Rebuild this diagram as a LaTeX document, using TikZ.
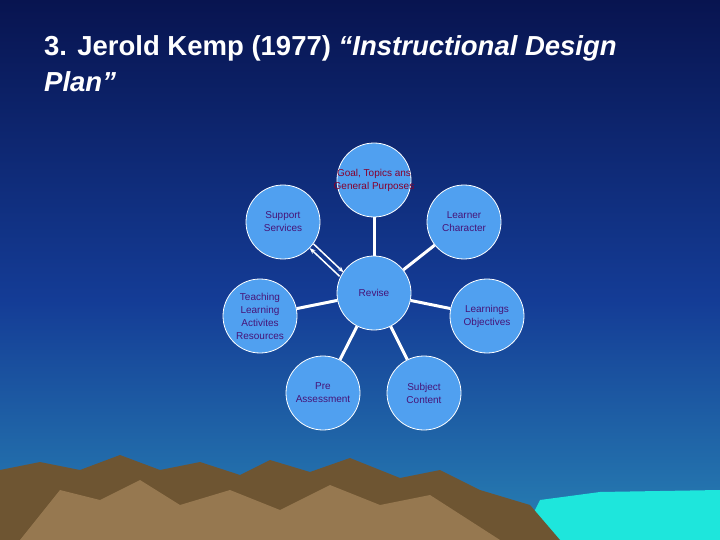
\documentclass[tikz,border=0pt]{standalone}
\usepackage{fontspec}
\setmainfont{Liberation Sans}
\usetikzlibrary{arrows.meta}
\definecolor{navy}{RGB}{8,20,80}
\definecolor{midblue}{RGB}{20,60,150}
\definecolor{lowblue}{RGB}{40,130,180}
\definecolor{bubble}{RGB}{80,160,240}
\definecolor{txt}{RGB}{70,20,120}
\definecolor{brown1}{RGB}{110,85,50}
\definecolor{brown2}{RGB}{150,120,80}
\definecolor{aqua}{RGB}{30,230,220}
\begin{document}
\begin{tikzpicture}[x=1pt,y=-1pt,
  bub/.style={circle,draw=white,thick,fill=bubble,minimum size=74pt,inner sep=0pt,align=center,font=\fontsize{10}{13}\selectfont,text=txt},
  link/.style={draw=white,line width=3pt}]
\shade[top color=navy,bottom color=midblue] (0,0) rectangle (720,300);
\shade[top color=midblue,bottom color=lowblue] (0,300) rectangle (720,540);
\fill[aqua] (520,540) -- (540,500) -- (600,492) -- (720,490) -- (720,540) -- cycle;
\fill[brown1] (0,540) -- (0,470) -- (40,462) -- (80,470) -- (120,455) -- (160,470) -- (200,462) -- (240,475) -- (270,460) -- (310,472) -- (350,458) -- (400,478) -- (440,470) -- (480,490) -- (530,505) -- (560,540) -- cycle;
\fill[brown2] (20,540) -- (60,490) -- (100,500) -- (140,480) -- (180,505) -- (230,490) -- (280,510) -- (330,485) -- (380,505) -- (430,495) -- (500,540) -- cycle;
\node[anchor=west,inner sep=0pt,text=white,font=\fontsize{27.5}{32}\bfseries\selectfont] (t1) at (44,48) {3. Jerold Kemp (1977) \textit{“Instructional Design}};
\node[anchor=west,inner sep=0pt,text=white,font=\fontsize{27.5}{32}\bfseries\itshape\selectfont] (t2) at (44,82) {Plan”};
\node[bub] (rev) at (374,293) {Revise};
\node[bub,text=purple!70!black] (goal) at (374,180) {\makebox[60pt]{Goal, Topics ans}\\\makebox[60pt]{General Purposes}};
\node[bub] (sup) at (283,222) {Support\\Services};
\node[bub] (lea) at (464,222) {Learner\\Character};
\node[bub] (tea) at (260,316) {Teaching\\Learning\\Activites\\Resources};
\node[bub] (obj) at (487,316) {Learnings\\Objectives};
\node[bub] (pre) at (323,393) {Pre\\Assessment};
\node[bub] (sub) at (424,393) {Subject\\Content};
\foreach \n in {goal,lea,tea,obj,pre,sub} \draw[link] (rev) -- (\n);
\draw[white,line width=1.5pt,-{Stealth[length=6pt]}] ([xshift=-2pt,yshift=-2pt]rev.150) -- ([xshift=-2pt,yshift=-2pt]sup.-40);
\draw[white,line width=1.5pt,-{Stealth[length=6pt]}] ([xshift=2pt,yshift=2pt]sup.-40) -- ([xshift=2pt,yshift=2pt]rev.150);
\end{tikzpicture}
\end{document}
